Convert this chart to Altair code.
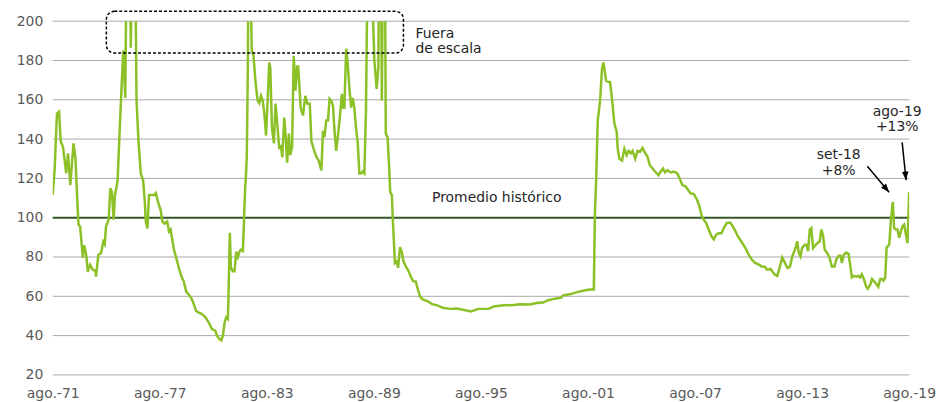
import altair as alt
import pandas as pd

# Monthly index (Promedio 1971-2019 = 100); decimal years
years = [
    1971.583, 1971.69, 1971.82, 1971.94, 1972.03, 1972.16, 1972.34, 1972.44, 1972.57, 1972.75,
    1972.86, 1972.96, 1973.03, 1973.12, 1973.27, 1973.35, 1973.46, 1973.55, 1973.68, 1973.83,
    1973.98, 1974.01, 1974.14, 1974.29, 1974.42, 1974.50, 1974.57, 1974.72, 1974.81, 1974.90,
    1975.00, 1975.07, 1975.17, 1975.22, 1975.31, 1975.44, 1975.54, 1975.65, 1975.72, 1975.87,
    1975.96, 1976.06, 1976.20, 1976.28, 1976.39, 1976.52, 1976.65, 1976.74, 1976.80, 1976.89,
    1976.98, 1977.13, 1977.26, 1977.36, 1977.50, 1977.63, 1977.73, 1977.86, 1978.00, 1978.10,
    1978.19, 1978.28, 1978.38, 1978.56, 1978.65, 1978.80, 1978.93, 1979.06, 1979.21, 1979.36,
    1979.49, 1979.62, 1979.77, 1979.95, 1980.14, 1980.32, 1980.51, 1980.70, 1980.79, 1980.92,
    1981.03, 1981.12, 1981.22, 1981.31, 1981.40, 1981.44, 1981.51, 1981.57, 1981.68, 1981.77,
    1981.87, 1981.96, 1982.05, 1982.12, 1982.24, 1982.31, 1982.37, 1982.40, 1982.46, 1982.52,
    1982.55, 1982.64, 1982.70, 1982.74, 1982.83, 1982.96, 1983.07, 1983.16, 1983.26, 1983.35,
    1983.44, 1983.54, 1983.63, 1983.72, 1983.78, 1983.87, 1983.98, 1984.07, 1984.17, 1984.28,
    1984.37, 1984.45, 1984.56, 1984.65, 1984.72, 1984.82, 1984.89, 1985.00, 1985.09, 1985.19,
    1985.28, 1985.34, 1985.48, 1985.61, 1985.74, 1985.86, 1985.99, 1986.08, 1986.21, 1986.36,
    1986.49, 1986.64, 1986.73, 1986.82, 1986.91, 1987.01, 1987.10, 1987.19, 1987.29, 1987.38,
    1987.47, 1987.56, 1987.66, 1987.79, 1987.84, 1987.93, 1988.03, 1988.12, 1988.21, 1988.31,
    1988.40, 1988.49, 1988.58, 1988.68, 1988.77, 1988.86, 1988.96, 1989.05, 1989.14, 1989.23,
    1989.38, 1989.51, 1989.61, 1989.74, 1989.83, 1989.88, 1989.98, 1990.03, 1990.09, 1990.20,
    1990.25, 1990.35, 1990.44, 1990.50, 1990.59, 1990.64, 1990.72, 1990.76, 1990.85, 1990.94,
    1991.00, 1991.05, 1991.15, 1991.24, 1991.37, 1991.50, 1991.65, 1991.78, 1991.93, 1992.05,
    1992.17, 1992.30, 1992.57, 1992.85, 1993.13, 1993.45, 1993.87, 1994.24, 1994.71, 1995.02,
    1995.45, 1996.01, 1996.29, 1996.84, 1997.40, 1997.77, 1998.33, 1998.70, 1999.07, 1999.35,
    1999.72, 2000.09, 2000.18, 2000.55, 2000.93, 2001.30, 2001.67, 2001.91, 2001.97, 2002.04,
    2002.13, 2002.26, 2002.37, 2002.45, 2002.50, 2002.60, 2002.75, 2002.82, 2002.93, 2003.06,
    2003.19, 2003.25, 2003.34, 2003.49, 2003.62, 2003.75, 2003.86, 2003.99, 2004.08, 2004.23,
    2004.36, 2004.49, 2004.64, 2004.79, 2004.92, 2005.05, 2005.20, 2005.34, 2005.53, 2005.66,
    2005.79, 2005.90, 2006.03, 2006.22, 2006.40, 2006.59, 2006.72, 2006.87, 2007.05, 2007.20,
    2007.33, 2007.52, 2007.70, 2007.83, 2007.94, 2008.07, 2008.20, 2008.35, 2008.50, 2008.63,
    2008.76, 2008.91, 2009.06, 2009.19, 2009.37, 2009.56, 2009.69, 2009.84, 2009.98, 2010.17,
    2010.39, 2010.58, 2010.76, 2010.95, 2011.13, 2011.32, 2011.51, 2011.60, 2011.73, 2011.82,
    2011.91, 2012.06, 2012.19, 2012.34, 2012.47, 2012.62, 2012.77, 2012.90, 2013.03, 2013.18,
    2013.31, 2013.40, 2013.49, 2013.58, 2013.73, 2013.83, 2013.92, 2014.01, 2014.10, 2014.20,
    2014.29, 2014.44, 2014.57, 2014.66, 2014.75, 2014.85, 2014.99, 2015.12, 2015.25, 2015.40,
    2015.50, 2015.63, 2015.74, 2015.81, 2015.92, 2016.05, 2016.18, 2016.29, 2016.37, 2016.48,
    2016.61, 2016.74, 2016.83, 2016.93, 2017.04, 2017.17, 2017.26, 2017.41, 2017.50, 2017.63,
    2017.72, 2017.85, 2017.96, 2018.06, 2018.15, 2018.24, 2018.32, 2018.41, 2018.47, 2018.56,
    2018.667, 2018.74, 2018.84, 2018.93, 2019.02, 2019.12, 2019.21, 2019.30, 2019.39, 2019.49,
    2019.583,
]
values = [
    111.5, 124, 153, 154, 139, 136, 122.6, 132.8, 116.6, 137.8,
    130, 109, 96.4, 95.5, 79.7, 86, 81, 72.6, 76, 73.5,
    73, 70, 81, 82, 87.8, 86.5, 95.5, 99, 115, 113,
    99, 111.5, 116, 119, 139, 166, 185, 161, 230, 260,
    186.5, 250, 240, 160, 139, 122.5, 119, 109, 98, 94.5,
    111.5, 111.5, 111.5, 112.5, 107.5, 104, 98, 97, 98, 93,
    94, 89, 83.7, 77.8, 74.5, 70, 67.6, 62.5, 60.8, 59,
    56, 52.5, 51.7, 51, 49.3, 46.8, 43.3, 42.5, 40, 38.3,
    37.5, 40, 46.8, 49.3, 48.5, 61.9, 92.3, 74.5, 72.7, 72.7,
    82.7, 80, 82.7, 83.7, 83, 100, 115.6, 119, 130.7, 176,
    230, 250, 205, 185, 183, 168, 159.6, 158.3, 162, 159.6,
    153.5, 141.8, 159.6, 179, 176, 146, 137.8, 158, 147.8, 135,
    137, 130.7, 151, 140, 128, 142.8, 131.8, 136, 182.3, 164.6,
    177, 177, 156, 152, 162, 158, 158, 139, 135, 131,
    129, 124, 144.4, 141, 149.5, 149.5, 160.5, 159.6, 157, 144,
    134, 141, 149.6, 163, 156, 156, 186, 178, 166, 156,
    161, 156, 146, 137.8, 122.5, 122.5, 123.5, 122.5, 154.5, 230,
    250, 210, 180, 165.6, 176, 230, 240, 159.6, 240, 240,
    142.8, 141, 125.7, 113, 111.5, 100, 85, 77, 77.8, 74.5,
    80, 85, 82.6, 77.8, 75.2, 73.4, 70.1, 67.7, 67.5, 63.5,
    60, 58.5, 57.6, 56, 55.4, 54.2, 53.6, 53.8, 52.9, 52.3,
    53.6, 53.6, 54.8, 55.4, 55.6, 56, 55.8, 56.6, 56.8, 58,
    58.8, 59.3, 60.5, 61, 62, 62.8, 63.5, 63.5, 102.4, 119,
    149.5, 159.6, 176, 179, 176, 169.7, 169, 169, 160.5, 148,
    143.8, 135, 130, 129, 135, 131.8, 134, 132.8, 134, 130,
    134, 133.5, 135.5, 132.8, 131, 126.7, 125, 123.5, 121.6, 123.5,
    125, 123, 124.2, 123, 123.5, 122.5, 120, 116.6, 116, 114,
    112.4, 112, 109, 105.6, 101.4, 99, 97.4, 94, 90.6, 89,
    91.3, 92.1, 92.1, 94.7, 97.4, 97.4, 95.7, 93.2, 90.6, 88,
    84.8, 81.3, 78.7, 77, 76.2, 75.2, 75, 73.6, 73.6, 74,
    72.6, 71, 70.4, 75.2, 79.7, 77, 74.4, 75, 80.3, 83.7,
    88, 82, 80.3, 84.5, 86.2, 86.2, 83, 93.9, 94.7, 84.5,
    85.6, 87, 88, 94, 91.3, 83.7, 82, 79.7, 75.2, 75.2,
    78.7, 80.6, 80.6, 77, 81.1, 82.3, 81.6, 75.2, 69.6, 70.4,
    70, 70.4, 69.6, 71.2, 68.8, 65, 63.8, 66, 68.8, 67.5,
    66.5, 64.8, 68.8, 68.8, 68, 69.6, 84.8, 85.6, 86.5, 98.9,
    108, 94.7, 94, 94, 89.8, 93, 95.7, 96.5, 92, 87,
    113,
]

average_value = [100]
average_label = ["Promedio histórico"]

# Out-of-scale box and its note
box_x = [1974.59]
box_x2 = [1991.24]
box_y = [205.0]
box_y2 = [183.8]
note_lines = ["Fuera", "de escala"]
note_x = [1991.91, 1991.91]
note_y = [193.7, 185.6]
label_avg_x = [1996.47]
label_avg_y = [110.0]

# Callouts
callout_text = ["set-18", "+8%", "ago-19", "+13%"]
callout_x = [2015.63, 2015.63, 2018.91, 2018.91]
callout_y = [131.7, 123.7, 154.0, 145.9]
arrow_x = [2017.24, 2019.19]
arrow_y = [126.2, 138.3]
arrow_x2 = [2018.46, 2019.41]
arrow_y2 = [113.0, 119.1]
arrow_angle = [139.8, 174.0]

tick_years = [1971 + 7 / 12 + 6 * k for k in range(9)]
y_ticks = list(range(20, 201, 20))
x_start = 1971 + 7 / 12
x_end = 2019 + 7 / 12

FONT = "DejaVu Sans"
x_scale = alt.Scale(domain=[x_start, x_end], nice=False, zero=False)
y_scale = alt.Scale(domain=[20, 200], nice=False, zero=False)

x_axis = alt.Axis(
    values=tick_years,
    labelExpr="'ago.-' + slice(toString(floor(datum.value + 0.01)), 2)",
    grid=False, domain=False, ticks=False, labelPadding=12,
    labelFontSize=14, labelColor="#595959", labelFont=FONT,
    labelFlush=False, labelOverlap=False, title=None)
y_axis = alt.Axis(
    values=y_ticks, grid=False,
    domain=False, ticks=False, labelPadding=10,
    labelFontSize=14, labelColor="#595959", labelFont=FONT, title=None)


def X(field):
    return alt.X(field, scale=x_scale, axis=x_axis)


def Y(field):
    return alt.Y(field, scale=y_scale, axis=y_axis)


series = pd.DataFrame({"year": years, "value": values})

grid_df = pd.DataFrame({"g": y_ticks, "gx": [x_start] * len(y_ticks), "gx2": [x_end] * len(y_ticks)})
grid = alt.Chart(grid_df).mark_rule(color="#a8a8a8", strokeWidth=1).encode(
    x=X("gx:Q"), x2="gx2:Q", y=Y("g:Q"))

line = alt.Chart(series).mark_line(color="#8cc027", strokeWidth=2.5, clip=True).encode(
    x=X("year:Q"), y=Y("value:Q"))

avg = alt.Chart(pd.DataFrame({"v": average_value})).mark_rule(
    color="#375a2a", strokeWidth=2).encode(y=Y("v:Q"))

avg_text = alt.Chart(pd.DataFrame({"x": label_avg_x, "y": label_avg_y, "t": average_label})).mark_text(
    align="center", baseline="middle", fontSize=14, font=FONT, color="#262626").encode(
    x=X("x:Q"), y=Y("y:Q"), text="t:N")

box = alt.Chart(pd.DataFrame({"x": box_x, "x2": box_x2, "y": box_y, "y2": box_y2})).mark_rect(
    fill="transparent", stroke="black", strokeWidth=1.5, strokeDash=[3, 2],
    cornerRadius=8, clip=False).encode(
    x=X("x:Q"), x2="x2:Q", y=Y("y:Q"), y2="y2:Q")

note = alt.Chart(pd.DataFrame({"x": note_x, "y": note_y, "t": note_lines})).mark_text(
    align="left", baseline="middle", fontSize=14, font=FONT, color="#262626", clip=False).encode(
    x=X("x:Q"), y=Y("y:Q"), text="t:N")

callouts = alt.Chart(pd.DataFrame({"x": callout_x, "y": callout_y, "t": callout_text})).mark_text(
    align="center", baseline="middle", fontSize=14, font=FONT, color="#262626").encode(
    x=X("x:Q"), y=Y("y:Q"), text="t:N")

arrows_df = pd.DataFrame({"x": arrow_x, "y": arrow_y, "x2": arrow_x2, "y2": arrow_y2, "ang": arrow_angle})
arrow_lines = alt.Chart(arrows_df).mark_rule(color="black", strokeWidth=1.5).encode(
    x=X("x:Q"), x2="x2:Q", y=Y("y:Q"), y2="y2:Q")
arrow_heads = alt.Chart(arrows_df).mark_point(
    shape="M0,0 L-0.38,1 L0.38,1 Z", filled=True, size=300, color="black", opacity=1).encode(
    x=X("x2:Q"), y=Y("y2:Q"), angle=alt.Angle("ang:Q", scale=None))

chart = alt.layer(grid, avg, line, avg_text, box, note, callouts, arrow_lines, arrow_heads).properties(
    width=862, height=356,
    padding={"left": 45, "top": 12, "right": 27, "bottom": 26},
    autosize=alt.AutoSizeParams(type="none"),
).configure_view(stroke=None)

chart.save("out.html", embed_options={"renderer": "svg", "actions": False})
